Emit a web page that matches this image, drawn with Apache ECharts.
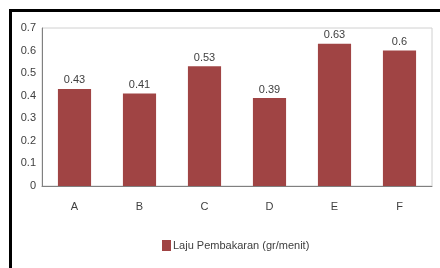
<!DOCTYPE html>
<html>
<head>
<meta charset="utf-8">
<script src="https://cdn.jsdelivr.net/npm/echarts@6/dist/echarts.min.js"></script>
<style>
  html, body { margin: 0; padding: 0; background: #fff; }
  #main { width: 440px; height: 268px; }
</style>
</head>
<body>
<div id="main"></div>
<script>
var categories = ['A', 'B', 'C', 'D', 'E', 'F'];
var laju = [0.43, 0.41, 0.53, 0.39, 0.63, 0.6];
var seriesName = 'Laju Pembakaran (gr/menit)';

var font = '"Liberation Sans Narrow", "Liberation Sans", sans-serif';

var myChart = echarts.init(document.getElementById('main'));

var option = {
    animation: false,
    textStyle: { fontFamily: font },
    grid: {
        left: 42, right: 8, top: 28, bottom: 82,
        show: true,
        borderColor: '#d0d0d0',
        borderWidth: 1
    },
    // black frame round the chart
    graphic: [
        { type: 'line', shape: { x1: 10, y1: 10.5, x2: 440, y2: 10.5 }, style: { stroke: '#000', lineWidth: 3 } },
        { type: 'line', shape: { x1: 10.5, y1: 9, x2: 10.5, y2: 268 }, style: { stroke: '#000', lineWidth: 3 } }
    ],
    legend: {
        bottom: 12,
        left: 157,
        itemWidth: 9,
        itemHeight: 11,
        itemGap: 2,
        icon: 'rect',
        textStyle: { fontFamily: font, fontSize: 11, color: '#404040', padding: [0, 0, 0, -3] },
        data: [seriesName]
    },
    xAxis: {
        type: 'category',
        data: categories,
        axisLine: { lineStyle: { color: '#808080' } },
        axisTick: { show: false },
        axisLabel: { fontSize: 11, color: '#404040', margin: 15, fontFamily: font }
    },
    yAxis: {
        type: 'value',
        min: 0,
        max: 0.7,
        interval: 0.1,
        splitLine: { show: false },
        axisLine: { show: true, lineStyle: { color: '#808080' } },
        axisTick: { show: false },
        axisLabel: { fontSize: 11, color: '#404040', margin: 6, fontFamily: font }
    },
    series: [{
        name: seriesName,
        type: 'bar',
        data: laju,
        barWidth: '51%',
        itemStyle: { color: '#A04444' },
        label: {
            show: true,
            position: 'top',
            distance: 3,
            fontSize: 11,
            color: '#404040',
            fontFamily: font
        }
    }]
};

myChart.setOption(option);
</script>
</body>
</html>
